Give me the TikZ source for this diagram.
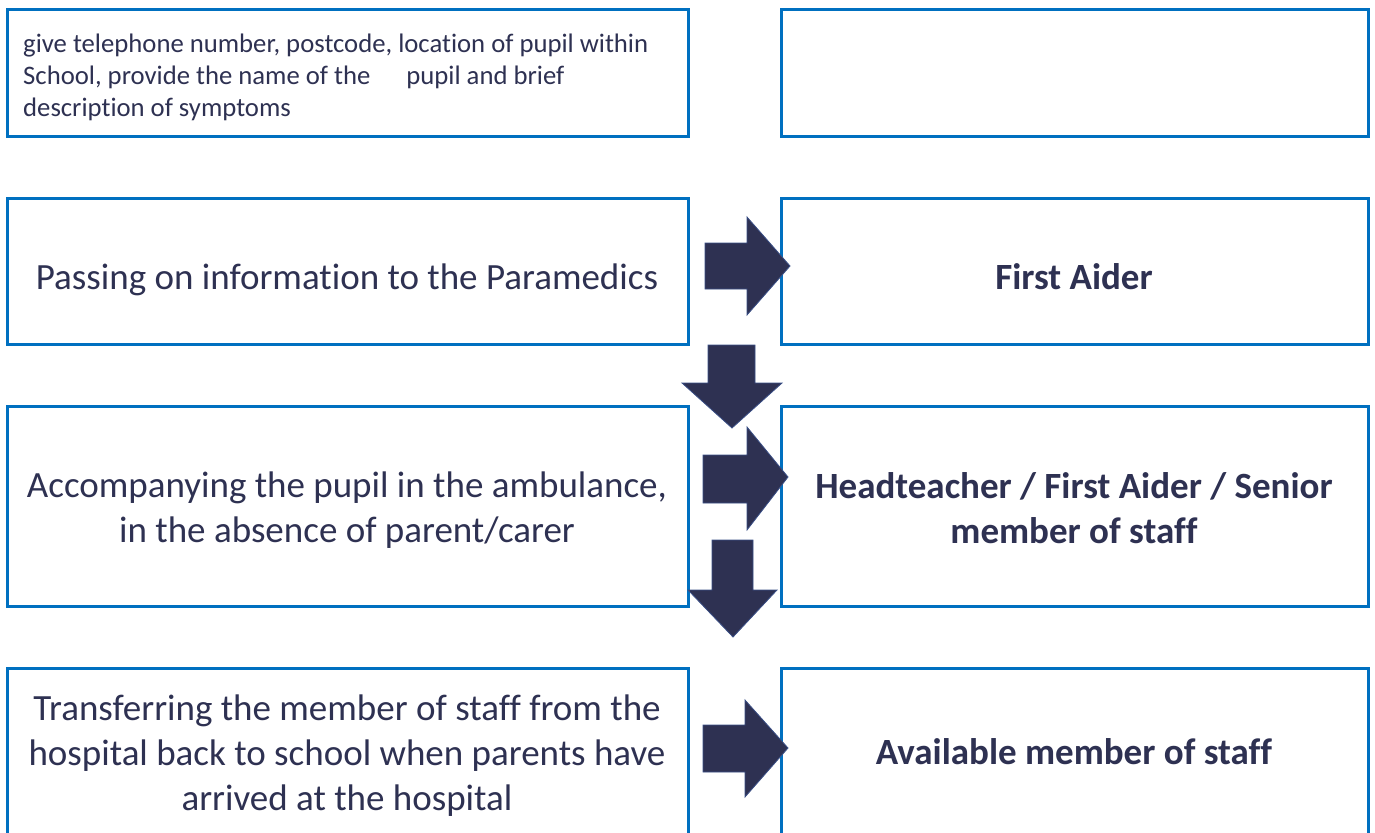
\documentclass[tikz,border=0pt]{standalone}
\usepackage{fontspec}
\setmainfont[Ligatures=NoCommon]{Carlito}
\definecolor{boxblue}{HTML}{0070C0}
\definecolor{navy}{HTML}{2E3152}
\definecolor{arrowedge}{HTML}{3A4F86}
\begin{document}
\begin{tikzpicture}[x=1pt,y=-1pt,
  box/.style={draw=boxblue, line width=2.6pt, fill=white, anchor=north west, inner sep=0pt},
  txt/.style={text=navy, align=center, font=\fontsize{37}{45}\selectfont, inner sep=0pt},
  btxt/.style={text=navy, align=center, font=\fontsize{37}{45}\selectfont\bfseries, inner sep=0pt},
  blockarrow/.style={fill=navy, draw=arrowedge, line width=0.8pt, line join=miter}]
\useasboundingbox (0,0) rectangle (1375,832);
\clip (0,0) rectangle (1375,832);
% row 1
\node[box, minimum width=681pt, minimum height=127pt] (l1) at (6,8) {};
\node[box, minimum width=587pt, minimum height=127pt] (r1) at (780,8) {};
\node[anchor=north west, text=navy, align=left, inner sep=0pt, font=\fontsize{26.7}{32}\selectfont] (t1) at (23,34)
  {give telephone number, postcode, location of pupil within\\School, provide the name of the\hspace{36pt}pupil and brief\\description of symptoms};
% row 2
\node[box, minimum width=681pt, minimum height=146pt] (l2) at (6,197) {};
\node[box, minimum width=587pt, minimum height=146pt] (r2) at (780,197) {};
\node[txt] (t2) at (347,280) {Passing on information to the Paramedics};
\node[btxt] (u2) at (1074,277) {First Aider};
% row 3
\node[box, minimum width=681pt, minimum height=200pt] (l3) at (6,405) {};
\node[box, minimum width=587pt, minimum height=200pt] (r3) at (780,405) {};
\node[txt] (t3) at (347,510) {Accompanying the pupil in the ambulance,\\in the absence of parent/carer};
\node[btxt] (u3) at (1074,508) {Headteacher / First Aider / Senior\\member of staff};
% row 4
\node[box, minimum width=681pt, minimum height=200pt] (l4) at (6,667) {};
\node[box, minimum width=587pt, minimum height=200pt] (r4) at (780,667) {};
\node[txt] (t4) at (347,756) {Transferring the member of staff from the\\hospital back to school when parents have\\arrived at the hospital};
\node[btxt] (u4) at (1074,752) {Available member of staff};
% block arrows
\draw[blockarrow] (705,243) -- (747,243) -- (747,217) -- (790,266) -- (747,315) -- (747,289) -- (705,289) -- cycle;
\draw[blockarrow] (708,345) -- (755,345) -- (755,383) -- (782,383) -- (732,428) -- (682,383) -- (708,383) -- cycle;
\draw[blockarrow] (703,455) -- (747,455) -- (747,427) -- (788,477) -- (747,530) -- (747,503) -- (703,503) -- cycle;
\draw[blockarrow] (712,540) -- (753,540) -- (753,590) -- (777,590) -- (733,637) -- (688,590) -- (712,590) -- cycle;
\draw[blockarrow] (703,725) -- (745,725) -- (745,700) -- (788,748) -- (745,797) -- (745,772) -- (703,772) -- cycle;
\end{tikzpicture}
\end{document}
